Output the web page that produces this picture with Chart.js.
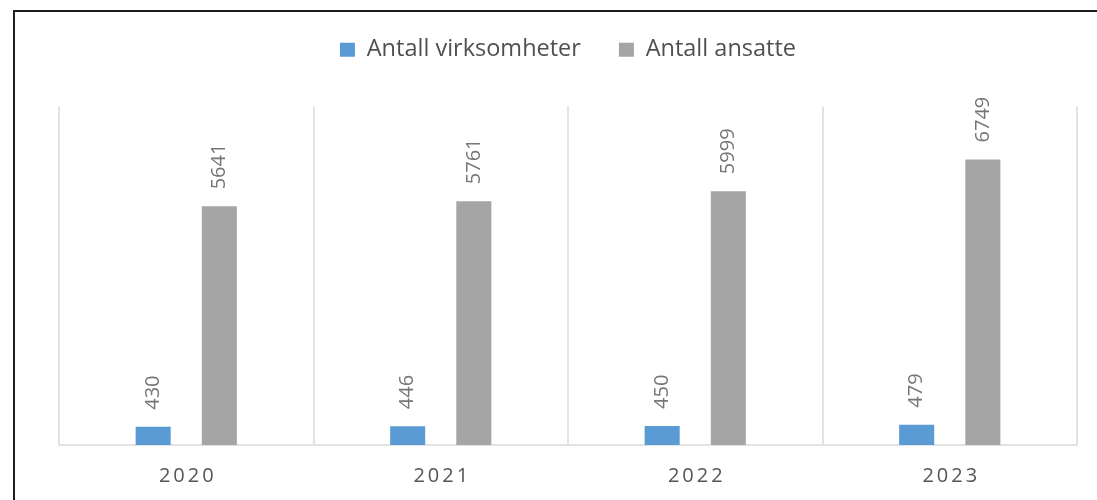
<!DOCTYPE html>
<html>
<head>
<meta charset="utf-8">
<script src="https://cdn.jsdelivr.net/npm/chart.js@4.4.1/dist/chart.umd.min.js"></script>
<style>
  html, body { margin: 0; padding: 0; background: #fff; overflow: hidden; width: 1097px; height: 500px; }
  #frame { position: absolute; left: 13px; top: 10px; border-left: 2px solid #1e1e1e; border-top: 2px solid #1e1e1e; width: 1084px; height: 490px; }
  canvas { display: block; }
</style>
</head>
<body>
<div id="frame"><canvas id="c" width="1082" height="488"></canvas></div>
<script>
const years = ['2020', '2021', '2022', '2023'];
const virksomheter = [430, 446, 450, 479];
const ansatte = [5641, 5761, 5999, 6749];
const seriesNames = ['Antall virksomheter', 'Antall ansatte'];
const yMax = 8000;

Chart.defaults.font.family = "'Open Sans', sans-serif";

const dataLabels = {
  id: 'dataLabels',
  afterDatasetsDraw(chart) {
    const ctx = chart.ctx;
    ctx.save();
    ctx.font = "20px 'Open Sans', sans-serif";
    ctx.fillStyle = '#767676';
    ctx.textAlign = 'left';
    ctx.textBaseline = 'middle';
    chart.data.datasets.forEach((ds, di) => {
      const meta = chart.getDatasetMeta(di);
      meta.data.forEach((bar, i) => {
        ctx.save();
        ctx.translate(bar.x, bar.y - 17);
        ctx.rotate(-Math.PI / 2);
        ctx.fillText(String(ds.data[i]), 0, 0);
        ctx.restore();
      });
    });
    ctx.restore();
  }
};

const xLabels = {
  id: 'xLabels',
  afterDraw(chart) {
    const ctx = chart.ctx;
    const scale = chart.scales.x;
    ctx.save();
    ctx.font = "20px 'Open Sans', sans-serif";
    ctx.fillStyle = '#555555';
    ctx.textAlign = 'center';
    ctx.textBaseline = 'middle';
    try { ctx.letterSpacing = '3px'; } catch (e) {}
    years.forEach((y, i) => {
      ctx.fillText(y, scale.getPixelForTick(i) + 1.5, scale.bottom - 24);
    });
    ctx.restore();
  }
};

new Chart(document.getElementById('c'), {
  type: 'bar',
  data: {
    labels: years,
    datasets: [
      { label: seriesNames[0], data: virksomheter, backgroundColor: '#5B9BD5', categoryPercentage: 0.52, barPercentage: 0.53 },
      { label: seriesNames[1], data: ansatte, backgroundColor: '#A5A5A5', categoryPercentage: 0.52, barPercentage: 0.53 }
    ]
  },
  options: {
    responsive: false,
    animation: false,
    devicePixelRatio: 1,
    layout: { padding: { top: -12, left: 44, right: 20, bottom: 0 } },
    plugins: {
      tooltip: { enabled: false },
      legend: {
        position: 'top',
        labels: {
          boxWidth: 15,
          boxHeight: 14,
          padding: 38,
          color: '#505050',
          font: { size: 23.5 }
        }
      }
    },
    scales: {
      x: {
        position: 'bottom',
        grid: { display: true, color: '#e2e2e2', lineWidth: 2, drawTicks: false, offset: true },
        border: { display: true, color: '#e2e2e2', width: 2 },
        ticks: { display: false },
        afterFit: (s) => { s.height = 55; }
      },
      xTop: {
        type: 'category',
        position: 'top',
        display: true,
        grid: { display: false },
        border: { display: false },
        ticks: { display: false },
        afterFit: (s) => { s.height = 35; }
      },
      y: {
        display: false,
        min: 0,
        max: yMax
      }
    }
  },
  plugins: [dataLabels, xLabels]
});
</script>
</body>
</html>
